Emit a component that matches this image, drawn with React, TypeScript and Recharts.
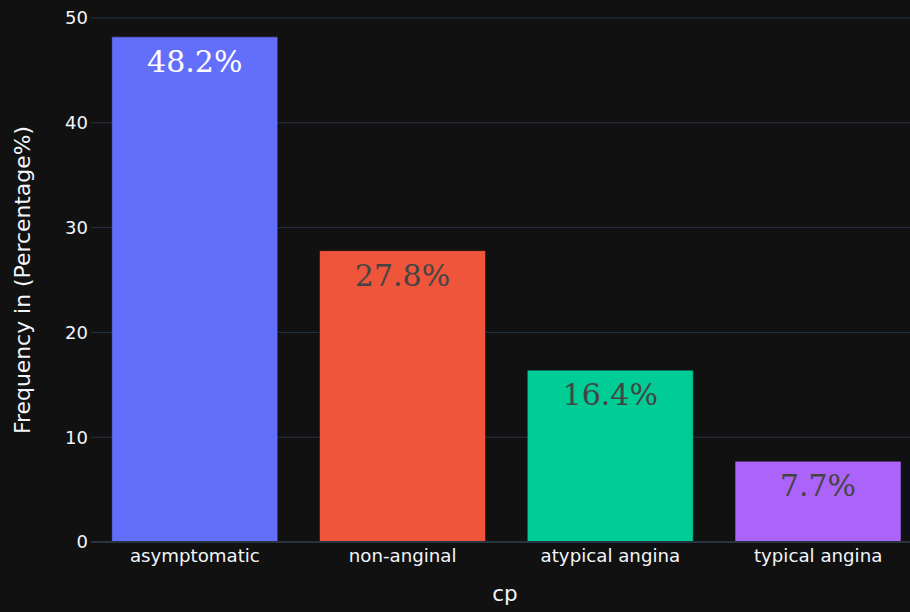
import React from 'react';
import { BarChart, Bar, XAxis, YAxis, CartesianGrid, ReferenceLine, LabelList, Cell } from 'recharts';

const categories = ['asymptomatic', 'non-anginal', 'atypical angina', 'typical angina'];
const percentages = [48.2, 27.8, 16.4, 7.7];
const barColors = ['#636efa', '#EF553B', '#00cc96', '#ab63fa'];
const labelColors = ['#ffffff', '#444444', '#444444', '#444444'];
const yTicks = [0, 10, 20, 30, 40, 50];

const data = categories.map((c, i) => ({ cp: c, value: percentages[i], idx: i }));

const AXIS_FONT = '"DejaVu Sans", Verdana, sans-serif';
const TEXT_COLOR = '#f2f5fa';
const GRID = '#283442';

const XTick = (props: any) => {
  const { x, y, payload } = props;
  return (
    <text x={x} y={y + 20} textAnchor="middle" fill={TEXT_COLOR} fontSize={18.2} fontFamily={AXIS_FONT}>
      {payload.value}
    </text>
  );
};

const YTick = (props: any) => {
  const { x, y, payload } = props;
  return (
    <text x={x} y={y} dy="0.36em" textAnchor="end" fill={TEXT_COLOR} fontSize={18} fontFamily={AXIS_FONT}>
      {payload.value}
    </text>
  );
};

const BarLabel = (props: any) => {
  const { x, y, width, value, index } = props;
  return (
    <text
      x={x + width / 2}
      y={y + 35}
      textAnchor="middle"
      fill={labelColors[index]}
      fontSize={30}
      fontFamily='"DejaVu Serif", serif'
    >
      {`${value}%`}
    </text>
  );
};

export default function App() {
  return (
    <div style={{ position: 'absolute', left: 0, top: 0, width: 910, height: 612, background: '#111111', overflow: 'hidden' }}>
      <BarChart
        width={922}
        height={612}
        data={data}
        margin={{ top: 18, right: 0, left: 0, bottom: 0 }}
        barCategoryGap="10%"
      >
        <CartesianGrid horizontal vertical={false} stroke={GRID} strokeWidth={1} />
        <XAxis
          dataKey="cp"
          height={70}
          tickLine={false}
          axisLine={false}
          tickSize={0}
          tickMargin={0}
          tick={<XTick />}
          interval={0}
          label={{
            content: (p: any) => {
              const vb = p.viewBox;
              return (
                <text x={505} y={vb.y + 59} textAnchor="middle" fill={TEXT_COLOR} fontSize={21.5} fontFamily={AXIS_FONT}>
                  cp
                </text>
              );
            },
          }}
        />
        <YAxis
          width={91}
          domain={[0, 50]}
          ticks={yTicks}
          tickLine={false}
          axisLine={false}
          tickSize={0}
          tickMargin={3}
          tick={<YTick />}
          label={{
            content: (p: any) => {
              const vb = p.viewBox;
              const cx = vb.x + 22;
              const cy = vb.y + vb.height / 2;
              return (
                <text
                  x={cx}
                  y={cy}
                  dy="0.36em"
                  textAnchor="middle"
                  transform={`rotate(-90, ${cx}, ${cy})`}
                  fill={TEXT_COLOR}
                  fontSize={21.9}
                  fontFamily={AXIS_FONT}
                >
                  Frequency in (Percentage%)
                </text>
              );
            },
          }}
        />
        <ReferenceLine y={0} stroke={GRID} strokeWidth={2} />
        <Bar dataKey="value" isAnimationActive={false} stroke="#111111" strokeWidth={0.5}>
          {data.map((d, i) => (
            <Cell key={d.cp} fill={barColors[i]} />
          ))}
          <LabelList dataKey="value" content={<BarLabel />} />
        </Bar>
      </BarChart>
    </div>
  );
}
